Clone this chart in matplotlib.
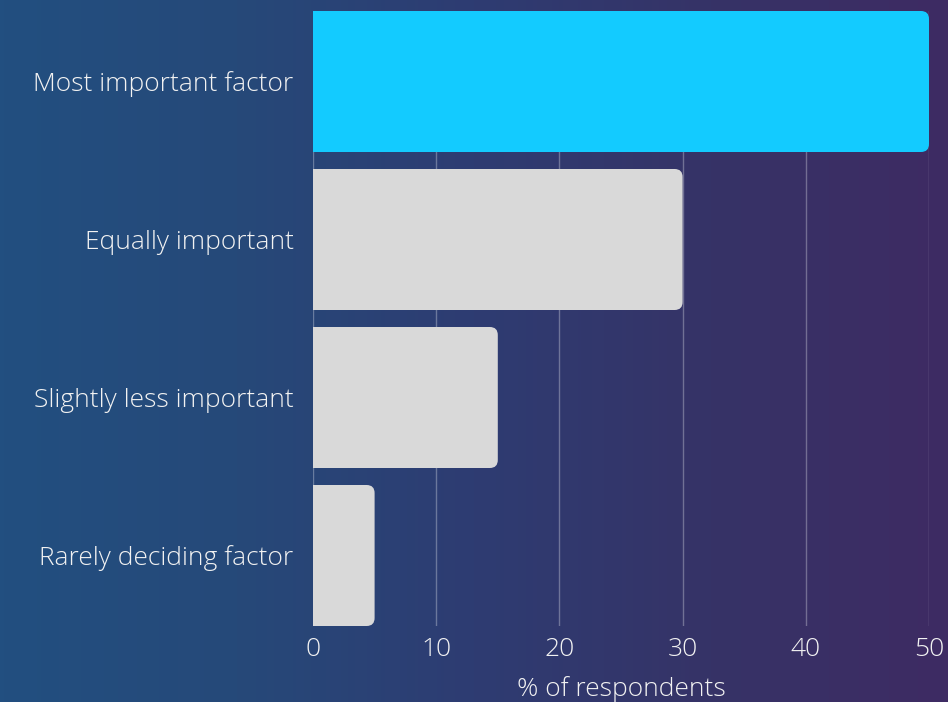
import numpy as np
import matplotlib
matplotlib.use("Agg")
import matplotlib.pyplot as plt
from matplotlib.colors import LinearSegmentedColormap
from matplotlib.patches import FancyBboxPatch, Rectangle

categories = ["Most important factor", "Equally important",
              "Slightly less important", "Rarely deciding factor"]
values = [50, 30, 15, 5]
bar_colors = ["#13cbff", "#d9d9d9", "#d9d9d9", "#d9d9d9"]
xticks = [0, 10, 20, 30, 40, 50]

plt.rcParams["font.family"] = ["Open Sans", "DejaVu Sans"]
plt.rcParams["font.weight"] = "light"
TXT = "#f2f2f2"
FS = 19

fig = plt.figure(figsize=(9.48, 7.02), dpi=100)

# background gradient (blue -> purple)
bg = fig.add_axes([0, 0, 1, 1], zorder=-10)
grad = LinearSegmentedColormap.from_list(
    "bg", ["#224f80", "#264979", "#2e3c72", "#363367", "#3e2b63"])
bg.imshow(np.linspace(0, 1, 256)[None, :], aspect="auto", cmap=grad,
          extent=[0, 1, 0, 1])
bg.axis("off")

W, H = 948, 702
ax = fig.add_axes([313 / W, 1 - 626 / H, (929 - 313) / W, (626 - 11) / H])
ax.patch.set_alpha(0)

bar_h = 141 / 158
n = len(categories)
ax.set_xlim(0, 50)
ax.set_ylim(n - 1 + bar_h / 2, -bar_h / 2)

# rounded right corners, ~8 px radius
px_x = (929 - 313) / 50.0
px_y = 158.0
r = 8
for i, (v, c) in enumerate(zip(values, bar_colors)):
    y0 = i - bar_h / 2
    ax.add_patch(FancyBboxPatch((0, y0), v, bar_h,
                                boxstyle=f"round,pad=0,rounding_size={r / px_x}",
                                mutation_aspect=px_x / px_y,
                                fc=c, ec="none", zorder=3))
    ax.add_patch(Rectangle((0, y0), min(v / 2, 1.5), bar_h, fc=c, ec="none", zorder=3))

ax.set_xticks(xticks)
ax.set_yticks(range(n))
ax.set_yticklabels(categories)
ax.grid(axis="x", color="white", alpha=0.3, lw=1, zorder=1)
ax.tick_params(length=0, colors=TXT, labelsize=FS)
ax.tick_params(axis="y", pad=14)
ax.tick_params(axis="x", pad=8)
for s in ax.spines.values():
    s.set_visible(False)
ax.set_xlabel("% of respondents", color=TXT, fontsize=FS, fontweight="light",
              labelpad=10)

fig.savefig("out.png", dpi=100)
